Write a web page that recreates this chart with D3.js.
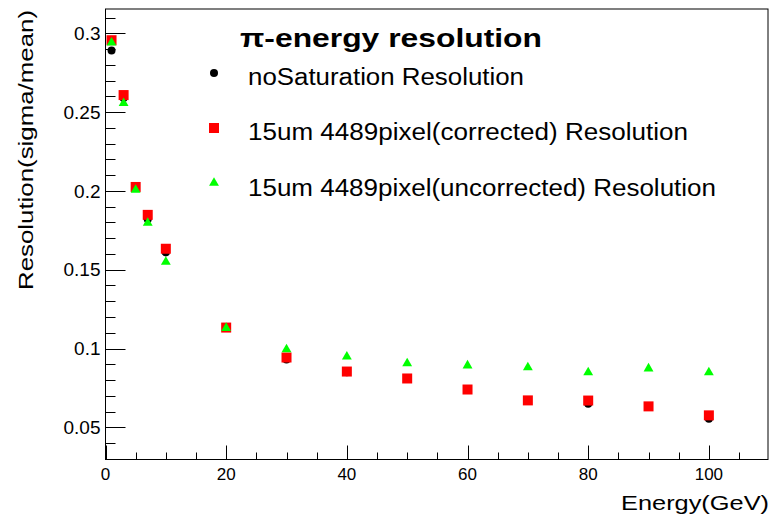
<!DOCTYPE html>
<html>
<head>
<meta charset="utf-8">
<script src="https://cdn.jsdelivr.net/npm/d3@7"></script>
<style>
  html, body { margin: 0; padding: 0; background: #fff; }
  svg { display: block; }
  text { font-family: "Liberation Sans", Arial, Helvetica, sans-serif; }
</style>
</head>
<body>
<svg id="chart" width="776" height="516"></svg>
<script>
const energy = [1, 3, 5, 7, 10, 20, 30, 40, 50, 60, 70, 80, 90, 100];
const noSaturation = [0.289, 0.259, 0.202, 0.182, 0.161, 0.113, 0.093, 0.085, 0.081, 0.074, 0.067, 0.065, 0.063, 0.0555];
const corrected = [0.2956, 0.2608, 0.2025, 0.1848, 0.1633, 0.1133, 0.0943, 0.0854, 0.081, 0.074, 0.0671, 0.067, 0.0633, 0.0576];
const uncorrected = [0.294, 0.2557, 0.2006, 0.1797, 0.155, 0.113, 0.0994, 0.0949, 0.0905, 0.0892, 0.088, 0.0848, 0.0873, 0.0848];
const xTicks = [0, 20, 40, 60, 80, 100];
const yTicks = [0.05, 0.1, 0.15, 0.2, 0.25, 0.3];
const legendLabels = ["noSaturation Resolution", "15um 4489pixel(corrected) Resolution", "15um 4489pixel(uncorrected) Resolution"];
const titleText = "π-energy resolution";
const xTitle = "Energy(GeV)";
const yTitle = "Resolution(sigma/mean)";

const svg = d3.select("#chart");
const L = 105.5, R = 768, T = 9, B = 459.5;
const x = d3.scaleLinear().domain([0, 109.8]).range([L, R]);
const y = d3.scaleLinear().domain([0.0296, 0.3154]).range([B, T]);

// frame
svg.append("rect").attr("x", L).attr("y", T).attr("width", R - L).attr("height", B - T)
  .attr("fill", "none").attr("stroke", "#000").attr("stroke-width", 1);

// y ticks
const yMinor = d3.range(0.03, 0.3155, 0.01).filter(v => v > 0.0296 && v < 0.3154);
const gY = svg.append("g");
yMinor.forEach(v => {
  const isMajor = Math.abs(Math.round(v * 100) % 5) === 0;
  gY.append("line").attr("x1", L).attr("x2", L + (isMajor ? 20 : 10))
    .attr("y1", Math.round(y(v)) + 0.5).attr("y2", Math.round(y(v)) + 0.5)
    .attr("stroke", "#000").attr("stroke-width", 1);
});
yTicks.forEach(v => {
  gY.append("text").attr("x", L - 5).attr("y", y(v)).attr("dy", "0.35em")
    .attr("text-anchor", "end").attr("font-size", 19).text(+v.toFixed(2));
});

// x ticks
const gX = svg.append("g");
d3.range(0, 110, 5).forEach(v => {
  const isMajor = v % 20 === 0;
  gX.append("line").attr("x1", Math.round(x(v)) + 0.5).attr("x2", Math.round(x(v)) + 0.5)
    .attr("y1", B).attr("y2", B - (isMajor ? 14 : 7))
    .attr("stroke", "#000").attr("stroke-width", 1);
});
xTicks.forEach(v => {
  gX.append("text").attr("x", x(v)).attr("y", B + 8).attr("dy", "0.71em")
    .attr("text-anchor", "middle").attr("font-size", 17).text(v);
});

// axis titles
svg.append("text").attr("x", 769).attr("y", 510).attr("text-anchor", "end")
  .attr("font-size", 21).attr("textLength", 148).attr("lengthAdjust", "spacingAndGlyphs")
  .text(xTitle);
svg.append("text").attr("transform", `translate(33, 10) rotate(-90)`)
  .attr("text-anchor", "end").attr("font-size", 21)
  .attr("textLength", 280).attr("lengthAdjust", "spacingAndGlyphs").text(yTitle);

// series
const idx = d3.range(energy.length);
svg.append("g").selectAll("circle").data(idx).join("circle")
  .attr("cx", i => x(energy[i])).attr("cy", i => y(noSaturation[i])).attr("r", 4)
  .attr("fill", "#000");
svg.append("g").selectAll("rect").data(idx).join("rect")
  .attr("x", i => x(energy[i]) - 5).attr("y", i => y(corrected[i]) - 5)
  .attr("width", 10).attr("height", 10).attr("fill", "#ff0000");
const tri = d3.symbol().type(d3.symbolTriangle).size(42);
svg.append("g").selectAll("path").data(idx).join("path")
  .attr("transform", i => `translate(${x(energy[i])},${y(uncorrected[i])})`)
  .attr("d", tri).attr("fill", "#00ff00");

// title
svg.append("text").attr("x", 240).attr("y", 47).attr("font-size", 26)
  .attr("font-weight", "bold").attr("textLength", 302).attr("lengthAdjust", "spacingAndGlyphs")
  .text(titleText);

// legend
const legBase = [85, 140, 196];
const legLen = [276, 440, 468];
const lg = svg.append("g");
lg.append("circle").attr("cx", 214).attr("cy", 73).attr("r", 4).attr("fill", "#000");
lg.append("rect").attr("x", 209).attr("y", 123).attr("width", 10).attr("height", 10).attr("fill", "#ff0000");
lg.append("path").attr("transform", `translate(214,183)`).attr("d", tri).attr("fill", "#00ff00");
legendLabels.forEach((t, i) => {
  lg.append("text").attr("x", 248).attr("y", legBase[i])
    .attr("font-size", 23).attr("textLength", legLen[i]).attr("lengthAdjust", "spacingAndGlyphs").text(t);
});
</script>
</body>
</html>
